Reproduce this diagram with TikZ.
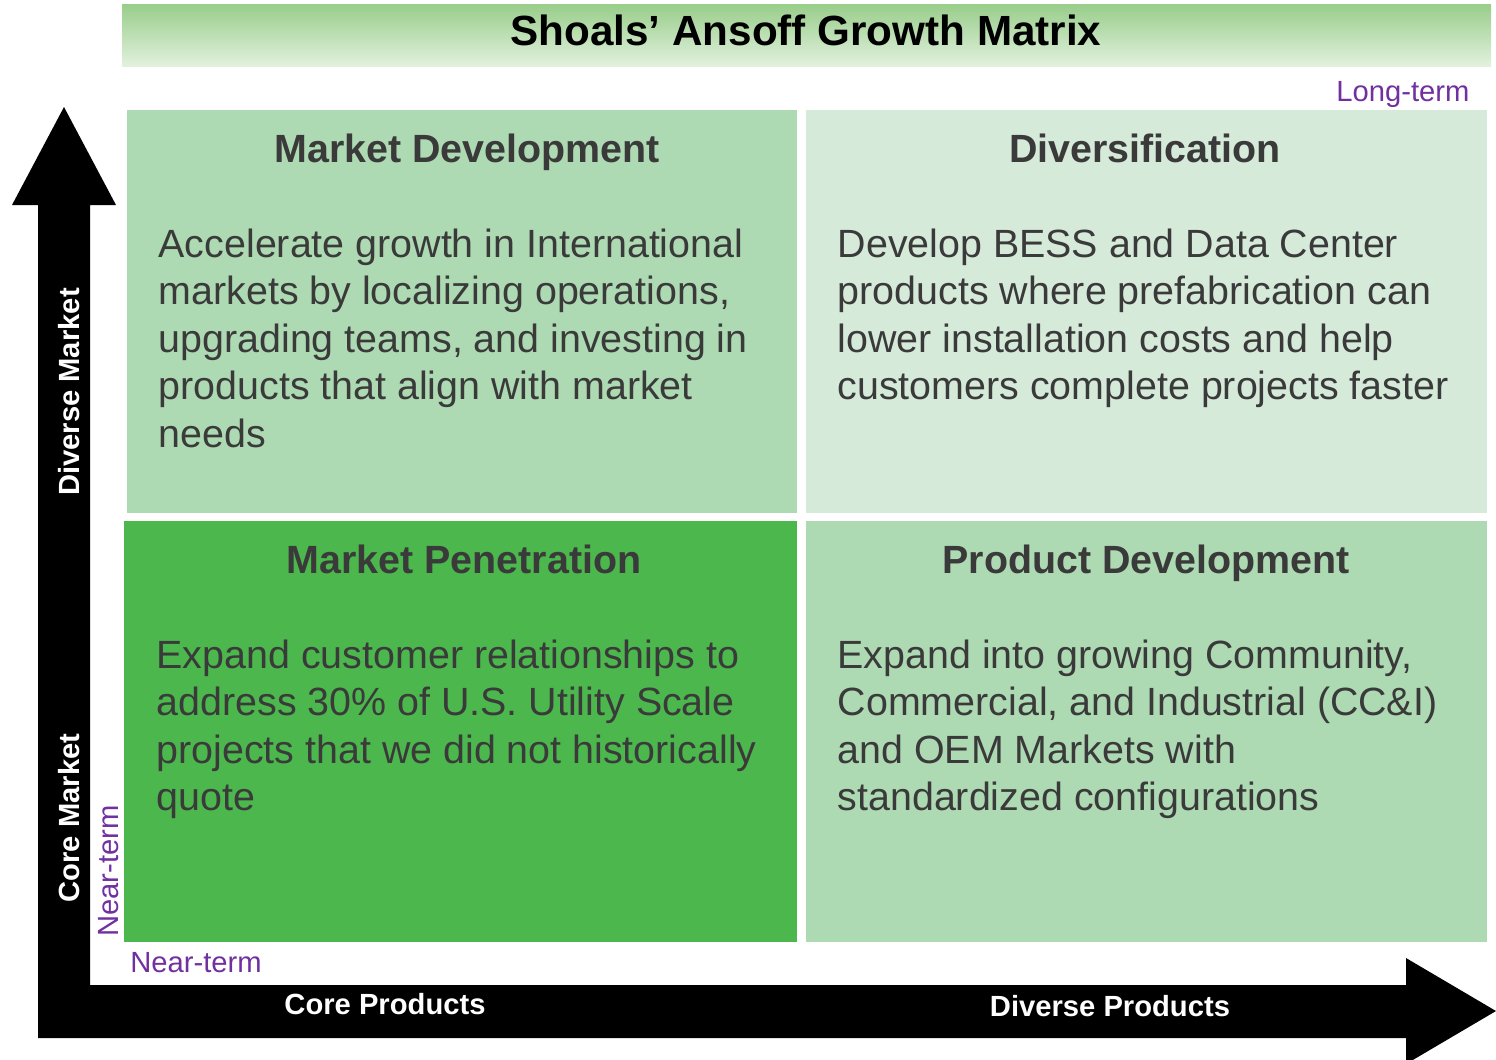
\documentclass[tikz,border=0pt]{standalone}
\usepackage{fontspec}
\setmainfont{Liberation Sans}
\usepackage{xcolor}
\usepackage{tikz}

\definecolor{lightgrn}{RGB}{173,218,178}
\definecolor{palegrn}{RGB}{214,234,218}
\definecolor{darkgrn}{RGB}{75,183,77}
\definecolor{bartop}{RGB}{152,205,138}
\definecolor{barbot}{RGB}{226,241,222}
\definecolor{termclr}{RGB}{112,48,160}
\definecolor{txtgray}{RGB}{58,58,58}

\tikzset{
	quadhead/.style={font=\fontsize{11.2}{13.5}\selectfont\bfseries, text=txtgray, anchor=base, inner sep=0pt},
	quadbody/.style={font=\fontsize{11.2}{13.5}\selectfont, text=txtgray, anchor=north west, align=left, inner sep=0pt},
	axislabel/.style={font=\fontsize{8.3}{10}\selectfont\bfseries, text=white, inner sep=0pt},
	termlabel/.style={font=\fontsize{8.3}{10}\selectfont, text=termclr, inner sep=0pt}
}

\begin{document}
\begin{tikzpicture}[x=0.01cm,y=-0.01cm]
		\useasboundingbox (0,0) rectangle (1496,1059);
		
		% title bar
		\shade[top color=bartop,bottom color=barbot] (122,4) rectangle (1491,66);
		\node[font=\fontsize{12}{14}\selectfont\bfseries, anchor=base, inner sep=0pt] (title) at (806,45) {Shoals’ Ansoff Growth Matrix};
		
		% the four cells
		\fill[lightgrn] (127,110) rectangle (797,513);
		\fill[palegrn] (806,110) rectangle (1487,513);
		\fill[darkgrn] (124,521) rectangle (797,942);
		\fill[lightgrn] (806,521) rectangle (1487,942);
		
		\node[quadhead] (mdhead) at (467,162) {Market Development};
		\node[quadhead] (dvhead) at (1145,162) {Diversification};
		\node[quadhead] (mphead) at (464,573) {Market Penetration};
		\node[quadhead] (pdhead) at (1146,573) {Product Development};
		
		\node[quadbody] (mdtext) at (158,228) {Accelerate growth in International\\markets by localizing operations,\\upgrading teams, and investing in\\products that align with market\\needs};
		\node[quadbody] (dvtext) at (837,228) {Develop BESS and Data Center\\products where prefabrication can\\lower installation costs and help\\customers complete projects faster};
		\node[quadbody] (mptext) at (156,639) {Expand customer relationships to\\address 30\% of U.S. Utility Scale\\projects that we did not historically\\quote};
		\node[quadbody] (pdtext) at (837,639) {Expand into growing Community,\\Commercial, and Industrial (CC\&I)\\and OEM Markets with\\standardized configurations};
		
		% axes as one block arrow pair
		\fill[black] (38,1038) -- (38,205) -- (12,205) -- (64,107) -- (116,205) -- (90,205) -- (90,985)
			-- (1406,985) -- (1406,958) -- (1496,1011) -- (1406,1064) -- (1406,1038) -- cycle;
		
		\node[axislabel, rotate=90] (divmkt) at (69,392) {Diverse Market};
		\node[axislabel, rotate=90] (coremkt) at (69,818) {Core Market};
		\node[axislabel] (coreprod) at (385,1004) {Core Products};
		\node[axislabel] (divprod) at (1110,1006) {Diverse Products};
		
		\node[termlabel] (longterm) at (1403,94) {Long-term};
		\node[termlabel, rotate=90] (nearv) at (109,871) {Near-term};
		\node[termlabel] (nearh) at (196,963) {Near-term};
	\end{tikzpicture}
\end{document}
